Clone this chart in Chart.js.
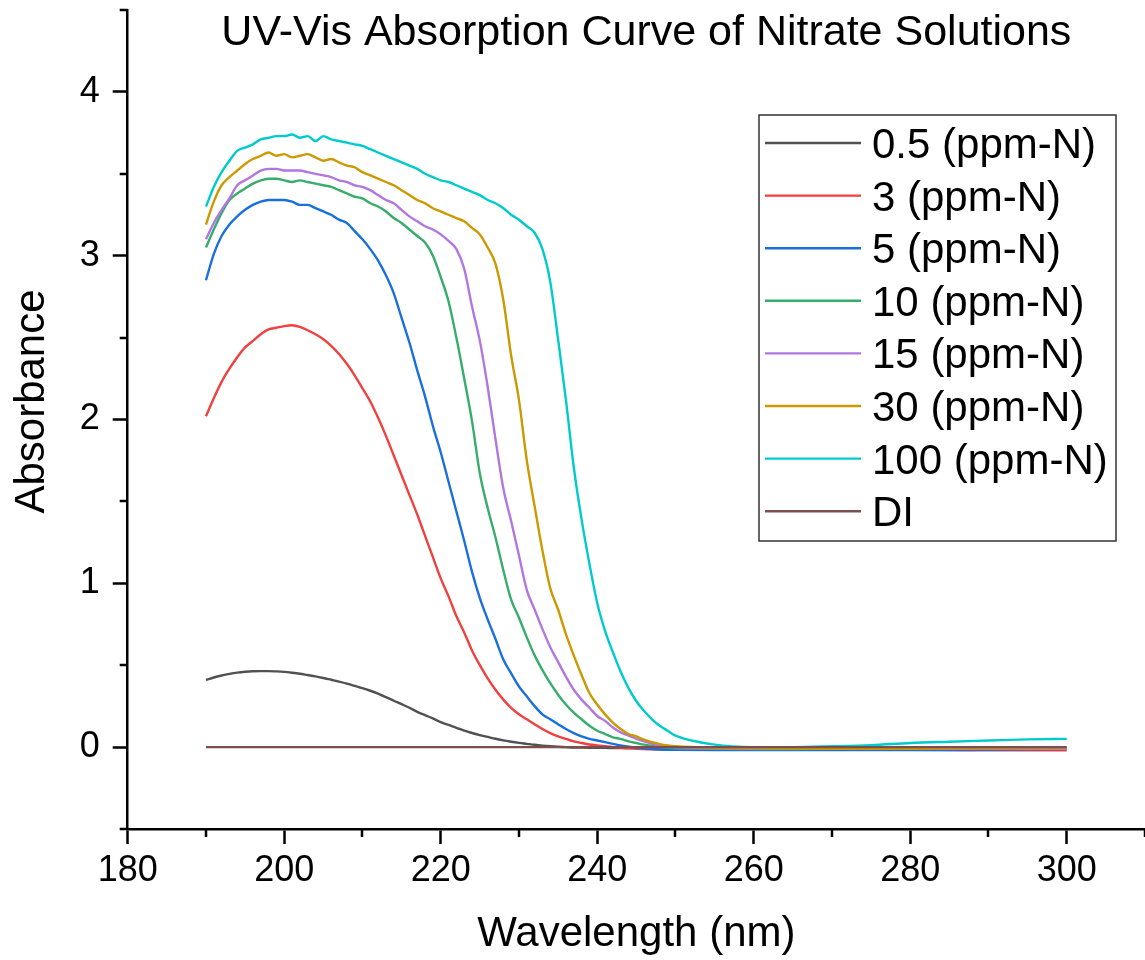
<!DOCTYPE html>
<html>
<head>
<meta charset="utf-8">
<script src="https://cdn.jsdelivr.net/npm/chart.js@4.4.1/dist/chart.umd.min.js"></script>
<style>
    html, body { margin: 0; padding: 0; background: #fff; }
    #wrap { position: relative; width: 1145px; height: 960px; }
</style>
</head>
<body>
<div id="wrap"><canvas id="chart"></canvas></div>
<script>
// DATA
const wavelengths = [
    190, 191, 192, 193, 194, 195, 196, 197, 198, 199,
    200, 201, 202, 203, 204, 205, 206, 207, 208, 209,
    210, 211, 212, 213, 214, 215, 216, 217, 218, 219,
    220, 221, 222, 223, 224, 225, 226, 227, 228, 229,
    230, 231, 232, 233, 234, 235, 236, 237, 238, 239,
    240, 241, 242, 243, 244, 245, 246, 247, 248, 249,
    250,
    255, 260, 265, 270, 275, 280, 285, 290, 295, 300
];

const abs05 = [
    0.41, 0.425, 0.437, 0.447, 0.455, 0.46, 0.463, 0.464, 0.464, 0.462,
    0.459, 0.454, 0.448, 0.44, 0.432, 0.422, 0.411, 0.40, 0.388, 0.374,
    0.36, 0.344, 0.326, 0.305, 0.283, 0.262, 0.24, 0.215, 0.195, 0.175,
    0.153, 0.135, 0.118, 0.10, 0.086, 0.073, 0.062, 0.051, 0.041, 0.033,
    0.026, 0.02, 0.014, 0.009, 0.005, 0.002, 0.0, -0.002, -0.003, -0.004,
    -0.005, -0.005, -0.006, -0.006, -0.006, -0.006, -0.006, -0.006, -0.006, -0.006,
    -0.006,
    -0.006, -0.006, -0.006, -0.006, -0.006, -0.006, -0.006, -0.006, -0.006, -0.006
];

const abs3 = [
    2.02, 2.13, 2.23, 2.31, 2.38, 2.44, 2.48, 2.52, 2.55, 2.56,
    2.57, 2.575, 2.565, 2.545, 2.52, 2.49, 2.45, 2.40, 2.34, 2.27,
    2.19, 2.11, 2.01, 1.90, 1.78, 1.66, 1.54, 1.42, 1.29, 1.16,
    1.03, 0.92, 0.80, 0.70, 0.59, 0.50, 0.42, 0.35, 0.29, 0.24,
    0.20, 0.17, 0.14, 0.11, 0.085, 0.065, 0.05, 0.035, 0.025, 0.016,
    0.01, 0.005, 0.0, -0.004, -0.008, -0.01, -0.012, -0.014, -0.015, -0.016,
    -0.016,
    -0.017, -0.017, -0.017, -0.017, -0.017, -0.017, -0.018, -0.02, -0.02, -0.02
];

const abs5 = [
    2.85, 3.01, 3.12, 3.19, 3.24, 3.28, 3.31, 3.33, 3.34, 3.34,
    3.34, 3.33, 3.31, 3.31, 3.29, 3.27, 3.25, 3.22, 3.20, 3.15,
    3.10, 3.04, 2.97, 2.88, 2.77, 2.62, 2.47, 2.30, 2.14, 1.96,
    1.80, 1.62, 1.44, 1.26, 1.07, 0.91, 0.78, 0.66, 0.535, 0.45,
    0.37, 0.31, 0.25, 0.20, 0.17, 0.14, 0.11, 0.085, 0.065, 0.05,
    0.04, 0.03, 0.02, 0.01, 0.003, -0.003, -0.008, -0.012, -0.015, -0.016,
    -0.017,
    -0.018, -0.018, -0.018, -0.018, -0.018, -0.018, -0.018, -0.016, -0.013, -0.012
];

const abs10 = [
    3.05, 3.16, 3.26, 3.34, 3.38, 3.41, 3.44, 3.46, 3.47, 3.47,
    3.46, 3.45, 3.46, 3.45, 3.44, 3.43, 3.42, 3.40, 3.38, 3.36,
    3.35, 3.32, 3.30, 3.27, 3.23, 3.20, 3.16, 3.12, 3.08, 3.00,
    2.87, 2.72, 2.50, 2.25, 1.99, 1.67, 1.46, 1.28, 1.08, 0.90,
    0.79, 0.67, 0.56, 0.47, 0.39, 0.32, 0.26, 0.21, 0.17, 0.13,
    0.10, 0.08, 0.06, 0.05, 0.035, 0.025, 0.015, 0.008, 0.0, -0.004,
    -0.007,
    -0.01, -0.012, -0.012, -0.01, -0.01, -0.01, -0.01, -0.01, -0.01, -0.01
];

const abs15 = [
    3.10, 3.20, 3.28, 3.35, 3.43, 3.46, 3.49, 3.52, 3.53, 3.53,
    3.52, 3.52, 3.52, 3.51, 3.50, 3.49, 3.48, 3.46, 3.45, 3.43,
    3.42, 3.40, 3.37, 3.34, 3.32, 3.28, 3.24, 3.21, 3.18, 3.16,
    3.13, 3.09, 3.04, 2.92, 2.69, 2.48, 2.20, 1.88, 1.58, 1.38,
    1.17, 0.96, 0.84, 0.72, 0.61, 0.52, 0.43, 0.35, 0.29, 0.24,
    0.19, 0.16, 0.12, 0.09, 0.07, 0.05, 0.035, 0.02, 0.01, 0.003,
    -0.002,
    -0.008, -0.01, -0.01, -0.01, -0.01, -0.01, -0.01, -0.01, -0.01, -0.01
];

const abs30 = [
    3.19, 3.33, 3.43, 3.48, 3.52, 3.56, 3.59, 3.61, 3.63, 3.61,
    3.62, 3.60, 3.61, 3.62, 3.60, 3.58, 3.59, 3.57, 3.55, 3.54,
    3.51, 3.49, 3.47, 3.45, 3.43, 3.40, 3.37, 3.34, 3.32, 3.29,
    3.27, 3.25, 3.23, 3.21, 3.17, 3.13, 3.05, 2.95, 2.73, 2.39,
    2.12, 1.75, 1.47, 1.20, 0.97, 0.84, 0.69, 0.56, 0.44, 0.33,
    0.26, 0.20, 0.15, 0.11, 0.08, 0.065, 0.045, 0.03, 0.018, 0.01,
    0.005,
    -0.005, -0.008, -0.01, -0.01, -0.01, -0.01, -0.008, -0.007, -0.006, -0.005
];

const abs100 = [
    3.30, 3.42, 3.51, 3.58, 3.64, 3.66, 3.68, 3.71, 3.72, 3.73,
    3.73, 3.74, 3.72, 3.73, 3.70, 3.73, 3.71, 3.70, 3.69, 3.68,
    3.67, 3.65, 3.63, 3.61, 3.59, 3.57, 3.55, 3.53, 3.50, 3.48,
    3.46, 3.45, 3.43, 3.41, 3.39, 3.37, 3.34, 3.32, 3.29, 3.25,
    3.22, 3.18, 3.14, 3.04, 2.84, 2.49, 2.12, 1.71, 1.39, 1.12,
    0.88, 0.71, 0.58, 0.46, 0.36, 0.28, 0.22, 0.17, 0.13, 0.10,
    0.07,
    0.015, 0.0, 0.0, 0.005, 0.012, 0.025, 0.033, 0.04, 0.047, 0.05
];

const absDI = [
    0, 0, 0, 0, 0, 0, 0, 0, 0, 0,
    0, 0, 0, 0, 0, 0, 0, 0, 0, 0,
    0, 0, 0, 0, 0, 0, 0, 0, 0, 0,
    0, 0, 0, 0, 0, 0, 0, 0, 0, 0,
    0, 0, 0, 0, 0, 0, 0, 0, 0, 0,
    0, 0, 0, 0, 0, 0, 0, 0, 0, 0,
    0,
    0, 0, 0, 0, 0, 0, 0, 0, 0, 0
];

const seriesLabels = [
    '0.5 (ppm-N)', '3 (ppm-N)', '5 (ppm-N)', '10 (ppm-N)',
    '15 (ppm-N)', '30 (ppm-N)', '100 (ppm-N)', 'DI'
];
const seriesValues = [abs05, abs3, abs5, abs10, abs15, abs30, abs100, absDI];
const seriesColors = [
    '#515151', '#F14040', '#1A6FDF', '#37AD6B',
    '#B177DE', '#CC9900', '#00CBCC', '#7D4E4E'
];

const xMajorTicks = [180, 200, 220, 240, 260, 280, 300];
const xMinorTicks = [190, 210, 230, 250, 270, 290, 310];
const yMajorTicks = [0, 1, 2, 3, 4];
const yMinorTicks = [-0.5, 0.5, 1.5, 2.5, 3.5, 4.5];

const CHART_TITLE = 'UV-Vis Absorption Curve of Nitrate Solutions';
const X_TITLE = 'Wavelength (nm)';
const Y_TITLE = 'Absorbance';

// STYLE
const FONT = '"Liberation Sans", Arial, sans-serif';
const AXIS_W = 2.5;
const LINE_W = 2.4;

Chart.defaults.font.family = FONT;
Chart.defaults.color = '#000';

// Minor ticks, chart title, y title and the boxed legend
const decorPlugin = {
    id: 'decor',
    afterDraw(chart) {
        const { ctx, chartArea, scales } = chart;
        const xs = scales.x, ys = scales.y;

        ctx.save();
        ctx.strokeStyle = '#000';
        ctx.lineWidth = AXIS_W;
        ctx.beginPath();
        xMinorTicks.forEach(v => {
            const px = Math.round(xs.getPixelForValue(v));
            ctx.moveTo(px, chartArea.bottom);
            ctx.lineTo(px, chartArea.bottom + 8);
        });
        yMinorTicks.forEach(v => {
            const py = Math.round(ys.getPixelForValue(v));
            ctx.moveTo(chartArea.left, py);
            ctx.lineTo(chartArea.left - 8, py);
        });
        ctx.stroke();

        // Title (sits inside the plot area)
        ctx.fillStyle = '#000';
        ctx.font = `43px ${FONT}`;
        ctx.textAlign = 'center';
        ctx.textBaseline = 'alphabetic';
        ctx.fillText(CHART_TITLE, (chartArea.left + chartArea.right) / 2 + 10, chartArea.top + 35);

        // Y axis title
        ctx.font = `42px ${FONT}`;
        ctx.save();
        ctx.translate(44, (chartArea.top + chartArea.bottom) / 2 - 18);
        ctx.rotate(-Math.PI / 2);
        ctx.fillText(Y_TITLE, 0, 0);
        ctx.restore();

        // Legend
        const boxL = chartArea.right - 386;
        const boxT = chartArea.top + 105;
        const boxW = 357, boxH = 426, rowH = 52.6;
        ctx.fillStyle = '#fff';
        ctx.fillRect(boxL, boxT, boxW, boxH);
        ctx.strokeStyle = '#333';
        ctx.lineWidth = 1.5;
        ctx.strokeRect(boxL, boxT, boxW, boxH);

        ctx.textAlign = 'left';
        chart.data.datasets.forEach((ds, i) => {
            const rowY = boxT + 28 + i * rowH;
            ctx.strokeStyle = ds.borderColor;
            ctx.lineWidth = LINE_W;
            ctx.beginPath();
            ctx.moveTo(boxL + 6, rowY);
            ctx.lineTo(boxL + 102, rowY);
            ctx.stroke();
            ctx.fillStyle = '#000';
            ctx.fillText(ds.label, boxL + 113, rowY + 15);
        });
        ctx.restore();
    }
};

const datasets = seriesLabels.map((label, i) => ({
    label: label,
    data: wavelengths.map((w, j) => ({ x: w, y: seriesValues[i][j] })),
    borderColor: seriesColors[i],
    backgroundColor: seriesColors[i],
    borderWidth: LINE_W,
    pointRadius: 0,
    fill: false,
    cubicInterpolationMode: 'monotone',
    order: seriesLabels.length - 1 - i // later series drawn on top
}));

new Chart(document.getElementById('chart'), {
    type: 'line',
    data: { datasets },
    options: {
        responsive: true,
        maintainAspectRatio: false,
        animation: false,
        layout: { padding: { top: 10, right: 0, bottom: 0, left: 0 } },
        plugins: {
            legend: { display: false },
            tooltip: { enabled: false }
        },
        scales: {
            x: {
                type: 'linear',
                min: 180,
                max: 310,
                afterBuildTicks: s => { s.ticks = xMajorTicks.map(v => ({ value: v })); },
                afterFit: s => { s.height = 131; s.paddingLeft = 0; s.paddingRight = 0; },
                border: { display: true, color: '#000', width: AXIS_W },
                grid: {
                    drawOnChartArea: false,
                    drawTicks: true,
                    tickLength: 15,
                    tickWidth: AXIS_W,
                    tickColor: '#000'
                },
                ticks: {
                    autoSkip: false,
                    maxRotation: 0,
                    padding: 5,
                    font: { size: 36 },
                    color: '#000'
                },
                title: {
                    display: true,
                    text: X_TITLE,
                    font: { size: 42 },
                    color: '#000',
                    padding: { top: 0, bottom: 0 }
                }
            },
            y: {
                type: 'linear',
                min: -0.5,
                max: 4.5,
                afterBuildTicks: s => { s.ticks = yMajorTicks.map(v => ({ value: v })); },
                afterFit: s => { s.width = 127.7; s.paddingTop = 0; s.paddingBottom = 0; },
                border: { display: true, color: '#000', width: AXIS_W },
                grid: {
                    drawOnChartArea: false,
                    drawTicks: true,
                    tickLength: 15,
                    tickWidth: AXIS_W,
                    tickColor: '#000'
                },
                ticks: {
                    padding: 13,
                    font: { size: 36 },
                    color: '#000'
                }
            }
        }
    },
    plugins: [decorPlugin]
});
</script>
</body>
</html>
